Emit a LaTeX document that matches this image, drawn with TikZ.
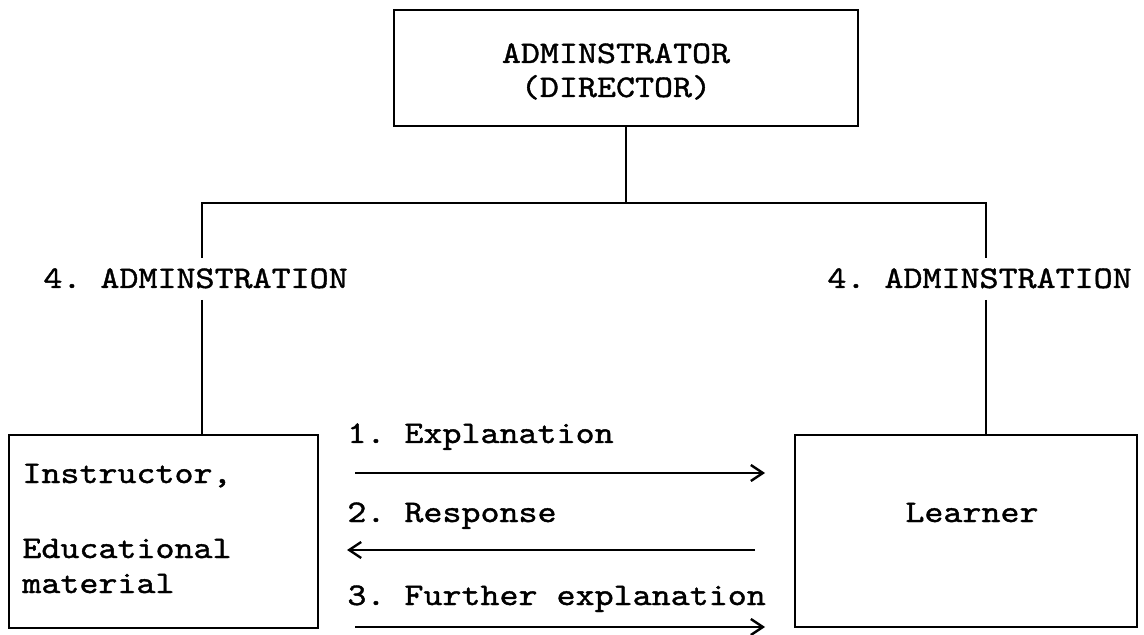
\documentclass[tikz,border=0pt]{standalone}
\usepackage{fontspec}
\setmonofont[FakeStretch=1.15,FakeBold=1.2]{lmmono10-regular.otf}
\usetikzlibrary{arrows.meta}
\begin{document}
\begin{tikzpicture}[x=0.5pt,y=-0.5pt,
  box/.style={draw, line width=1pt, inner sep=0pt},
  wire/.style={line width=0.8pt},
  flow/.style={line width=0.8pt, -{Straight Barb[length=6pt,width=8pt,line width=1.2pt]}},
  txt/.style={font=\ttfamily\fontsize{15.75}{17.5}\selectfont, inner sep=0pt, anchor=base west},
  ctxt/.style={font=\ttfamily\fontsize{15.75}{17.5}\selectfont, inner sep=0pt, anchor=base}]
\useasboundingbox (0,0) rectangle (1144,635);

% boxes
\node[box, minimum width=232pt, minimum height=58pt] (top) at (626,68) {};
\node[box, minimum width=154.5pt, minimum height=96.5pt] (lbox) at (163.5,531.5) {};
\node[box, minimum width=171pt, minimum height=96pt] (rbox) at (966,531) {};

% box texts
\node[ctxt] (t1) at (616,63) {ADMINSTRATOR};
\node[ctxt] (t2) at (616,97) {(DIRECTOR)};
\node[txt] (i1) at (22,483) {Instructor,};
\node[txt] (i2) at (22,558) {Educational};
\node[txt] (i3) at (22,593) {material};
\node[txt] (ln) at (905,522) {Learner};

% administration labels
\node[txt] (adl) at (43,288) {4. ADMINSTRATION};
\node[txt] (adr) at (827,288) {4. ADMINSTRATION};

% tree of administration lines
\coordinate (bl) at (202,203);
\coordinate (br) at (986,203);
\coordinate (gl1) at (202,258);
\coordinate (gl2) at (202,300);
\coordinate (gr1) at (986,258);
\coordinate (gr2) at (986,300);
\draw[wire] (top.south) -- (top.south |- bl);
\draw[wire] (gl1) -- (bl) -- (br) -- (gr1);
\draw[wire] (gl2) -- (gl2 |- lbox.north);
\draw[wire] (gr2) -- (gr2 |- rbox.north);

% exchange labels and arrows
\node[txt] (e1) at (347,443) {1. Explanation};
\node[txt] (e2) at (347,522) {2. Response};
\node[txt] (e3) at (347,605) {3. Further explanation};
\coordinate (a1s) at (355,473);
\coordinate (a1e) at (765,473);
\coordinate (a2s) at (755,550);
\coordinate (a2e) at (347,550);
\coordinate (a3s) at (355,627);
\coordinate (a3e) at (765,627);
\draw[flow] (a1s) -- (a1e);
\draw[flow] (a2s) -- (a2e);
\draw[flow] (a3s) -- (a3e);
\end{tikzpicture}
\end{document}
